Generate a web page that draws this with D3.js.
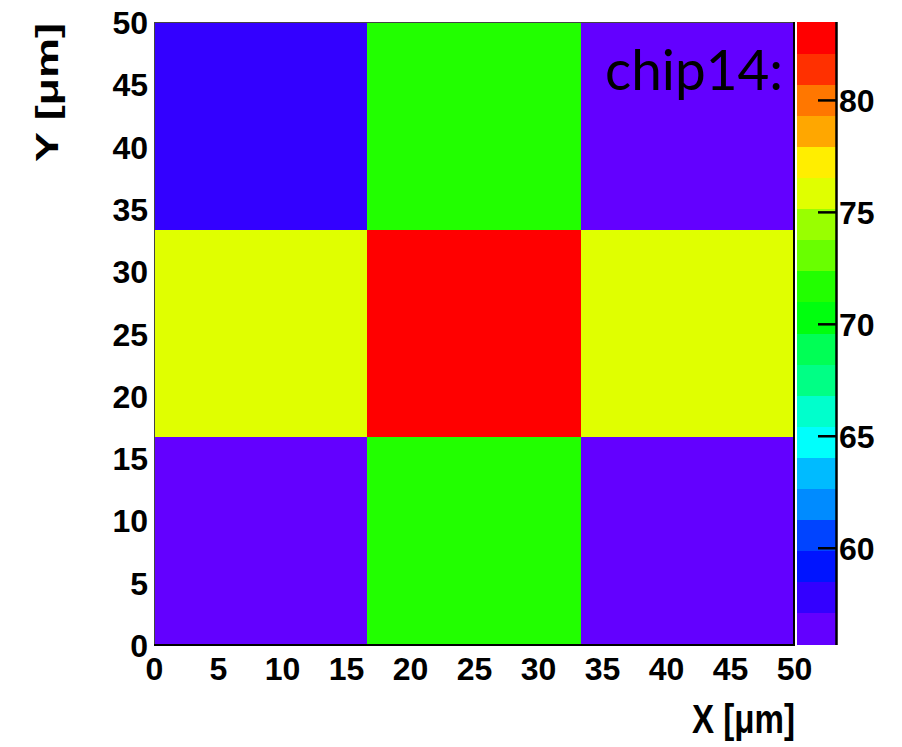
<!DOCTYPE html>
<html>
<head>
<meta charset="utf-8">
<script src="https://cdn.jsdelivr.net/npm/d3@7"></script>
<style>
  html, body { margin: 0; padding: 0; background: #fff; }
  svg { display: block; }
</style>
</head>
<body>
<svg id="chart" width="902" height="747"></svg>
<script>
// ---- data ----
const xEdges = [0, 16.667, 33.333, 50];
const yEdges = [0, 16.667, 33.333, 50];
// values[row][col], row 0 = bottom (y 0..16.7)
const rowBottom = [55.70, 71.4, 56.1];
const rowMiddle = [75.9, 83.48, 75.7];
const rowTop    = [57.8, 71.6, 56.3];
const values = [rowBottom, rowMiddle, rowTop];
const zMin = 55.70, zMax = 83.48;
const xTicks = [0, 5, 10, 15, 20, 25, 30, 35, 40, 45, 50];
const yTicks = [0, 5, 10, 15, 20, 25, 30, 35, 40, 45, 50];
const zTicks = [60, 65, 70, 75, 80];
const palette = ["#6300ff","#3300ff","#0014ff","#0044ff","#008bff","#00bbff","#00fffc","#00ffcc","#00ff85","#00ff55",
                 "#00ff0e","#22ff00","#69ff00","#99ff00","#e0ff00","#ffee00","#ffa700","#ff7700","#ff3000","#ff0000"];
const label = "chip14:";
const xTitle = "X [\u03bcm]";
const yTitle = "Y [\u03bcm]";

// ---- layout ----
const L = 154, R = 794, T = 22, B = 645;
const cbL = 797, cbR = 836;
const svg = d3.select("#chart");
const x = d3.scaleLinear().domain([0, 50]).range([L, R]);
const y = d3.scaleLinear().domain([0, 50]).range([B, T]);
const z = d3.scaleLinear().domain([zMin, zMax]).range([B - 1, T]);
const color = d3.scaleQuantize().domain([zMin, zMax]).range(palette);

// cells
const cells = [];
values.forEach((row, r) => row.forEach((v, c) => cells.push({r, c, v})));
svg.append("g").selectAll("rect").data(cells).join("rect")
  .attr("x", d => x(xEdges[d.c]))
  .attr("y", d => y(yEdges[d.r + 1]))
  .attr("width", d => x(xEdges[d.c + 1]) - x(xEdges[d.c]))
  .attr("height", d => y(yEdges[d.r]) - y(yEdges[d.r + 1]))
  .attr("fill", d => color(d.v))
  .attr("shape-rendering", "crispEdges");

// frame
svg.append("rect").attr("x", L + 0.5).attr("y", T + 0.5).attr("width", R - L - 1).attr("height", B - T - 1)
  .attr("fill", "none").attr("stroke", "#444").attr("stroke-width", 1);
svg.append("line").attr("x1", L).attr("x2", R + 1).attr("y1", B).attr("y2", B).attr("stroke", "#000").attr("stroke-width", 2);
svg.append("line").attr("x1", R).attr("x2", R).attr("y1", T).attr("y2", B + 1).attr("stroke", "#000").attr("stroke-width", 2);

// axes labels
const tickFont = "'Liberation Sans', Arial, sans-serif";
const xAxis = d3.axisBottom(x).tickValues(xTicks).tickSize(0).tickPadding(0).tickFormat(d3.format("d"));
const gx = svg.append("g").attr("transform", `translate(0,${B})`).call(xAxis);
gx.select(".domain").remove();
gx.selectAll("text").attr("y", 35).attr("dy", null)
  .attr("font-family", tickFont).attr("font-weight", "bold").attr("font-size", 32).attr("fill", "#000");

const yAxis = d3.axisLeft(y).tickValues(yTicks).tickSize(0).tickPadding(0).tickFormat(d3.format("d"));
const gy = svg.append("g").attr("transform", `translate(${L - 6},0)`).call(yAxis);
gy.select(".domain").remove();
gy.selectAll("text").attr("x", 0).attr("dy", "0.36em")
  .attr("font-family", tickFont).attr("font-weight", "bold").attr("font-size", 32).attr("fill", "#000");

// colour bar
const nb = palette.length, dz = (zMax - zMin) / nb;
svg.append("g").selectAll("rect").data(palette).join("rect")
  .attr("x", cbL).attr("width", cbR - cbL)
  .attr("y", (d, i) => z(zMin + (i + 1) * dz))
  .attr("height", (d, i) => z(zMin + i * dz) - z(zMin + (i + 1) * dz) + 0.5)
  .attr("fill", d => d).attr("shape-rendering", "crispEdges");
const zAxis = d3.axisRight(z).tickValues(zTicks).tickSize(0).tickPadding(0).tickFormat(d3.format("d"));
const gz = svg.append("g").attr("transform", `translate(${cbR},0)`).call(zAxis);
gz.select(".domain").remove();
gz.selectAll(".tick line").attr("x1", -18).attr("x2", 0).attr("stroke", "#000").attr("stroke-width", 2.5);
gz.selectAll("text").attr("x", 3).attr("dy", "0.36em")
  .attr("font-family", tickFont).attr("font-weight", "bold").attr("font-size", 32).attr("fill", "#000");
svg.append("line").attr("x1", cbR + 0.5).attr("x2", cbR + 0.5).attr("y1", T).attr("y2", B)
  .attr("stroke", "#000").attr("stroke-width", 2.5);

// titles
svg.append("text").attr("x", R + 1).attr("y", 733).attr("text-anchor", "end")
  .attr("font-family", tickFont).attr("font-weight", "bold").attr("font-size", 41)
  .attr("textLength", 103).attr("lengthAdjust", "spacingAndGlyphs").text(xTitle);
svg.append("text").attr("transform", "translate(58,23) rotate(-90)").attr("text-anchor", "end")
  .attr("font-family", tickFont).attr("font-weight", "bold").attr("font-size", 32)
  .attr("textLength", 139).attr("lengthAdjust", "spacingAndGlyphs").text(yTitle);

// label
svg.append("text").attr("x", 605).attr("y", 90)
  .attr("font-family", "Lato, 'Open Sans', sans-serif").attr("font-size", 57).attr("fill", "#000")
  .attr("textLength", 178).attr("lengthAdjust", "spacingAndGlyphs").text(label);
</script>
</body>
</html>
